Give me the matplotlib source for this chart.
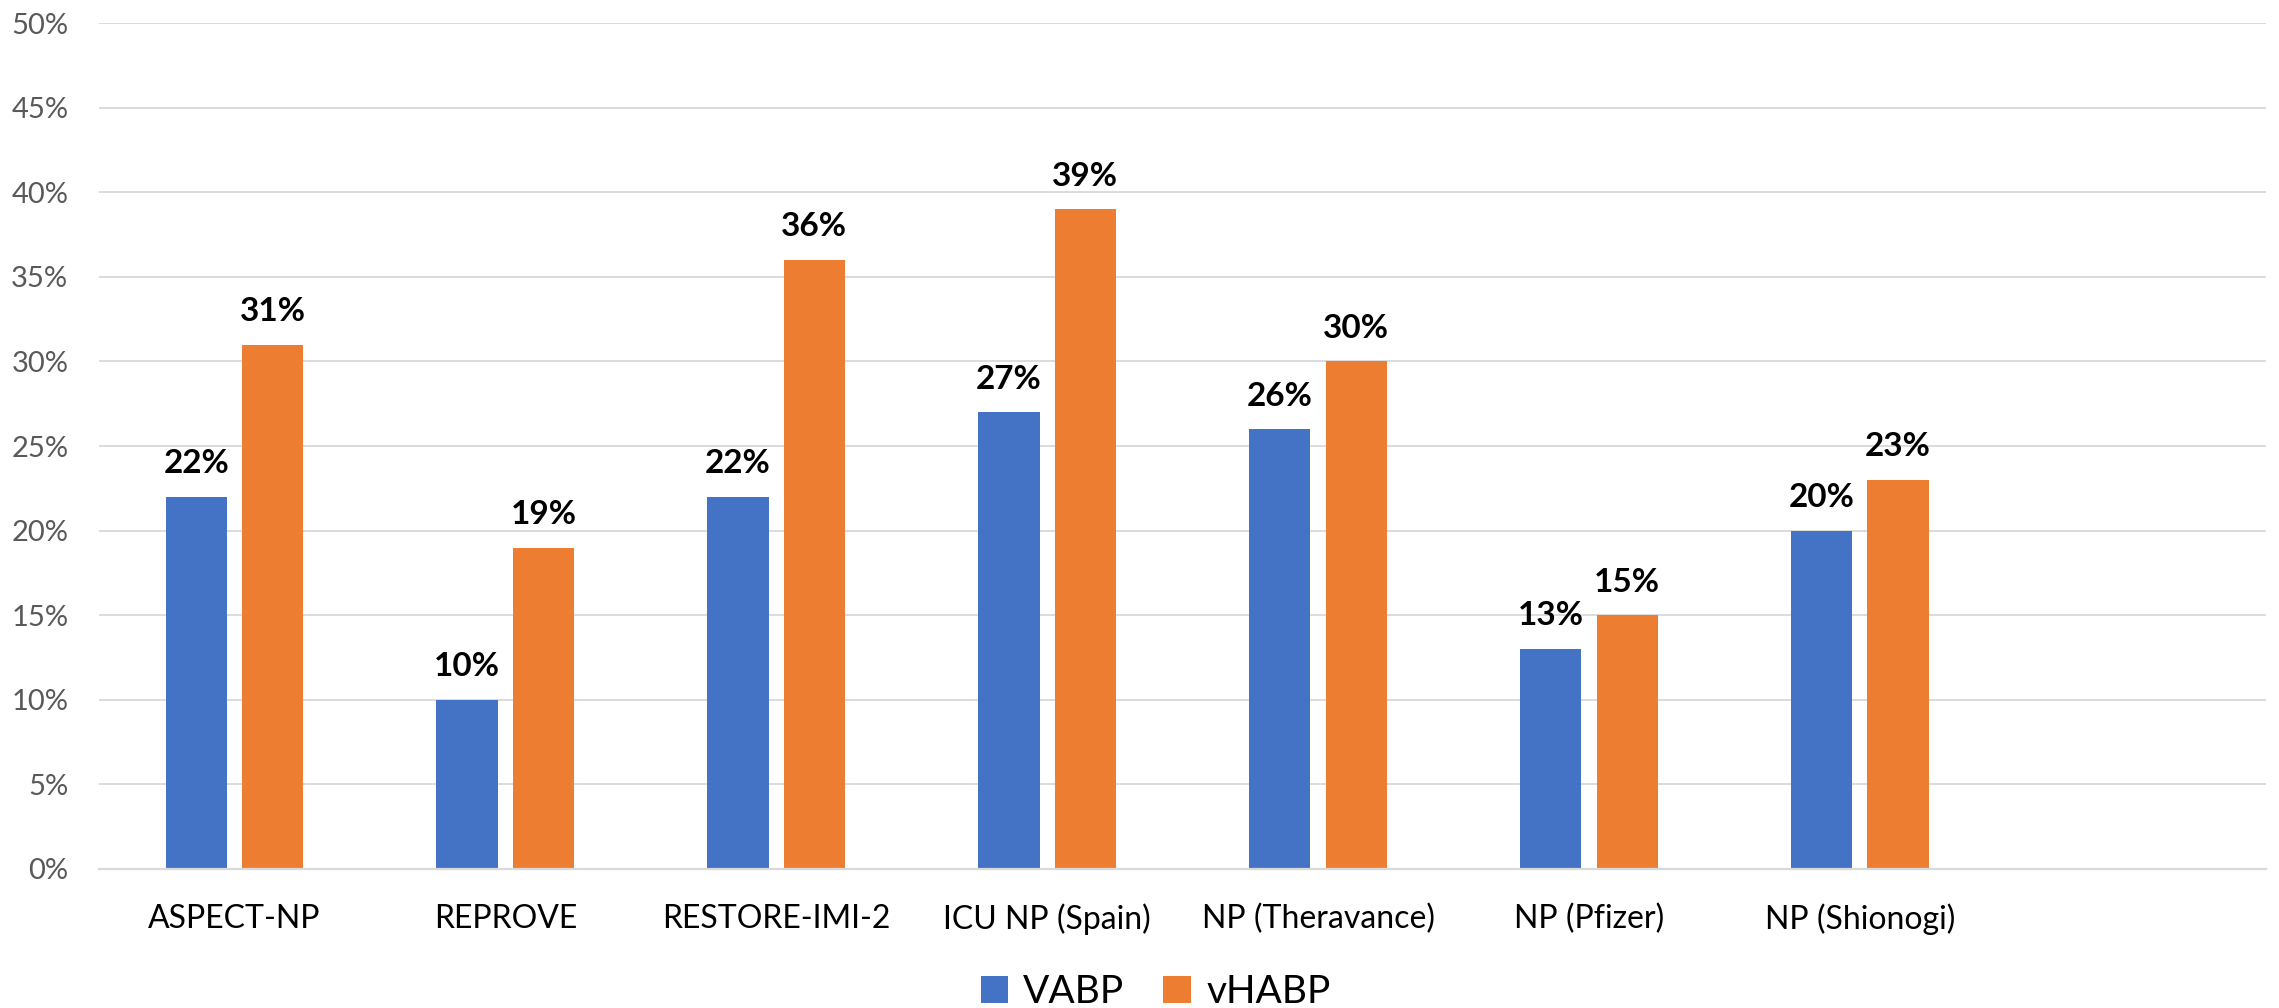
import numpy as np
import matplotlib.pyplot as plt
from matplotlib.ticker import MultipleLocator, PercentFormatter

plt.rcParams['font.family'] = ['Lato', 'DejaVu Sans']

studies = ['ASPECT-NP', 'REPROVE', 'RESTORE-IMI-2', 'ICU NP (Spain)',
           'NP (Theravance)', 'NP (Pfizer)', 'NP (Shionogi)']
vabp = [22, 10, 22, 27, 26, 13, 20]
vhabp = [31, 19, 36, 39, 30, 15, 23]
series_names = ['VABP', 'vHABP']

blue = '#4472C4'
orange = '#ED7D31'
grid_grey = '#D9D9D9'

fig = plt.figure(figsize=(22.79, 10.08), dpi=100)
ax = fig.add_axes([0.0434, 0.138, 0.951, 0.839])

x = np.arange(len(studies))
w = 0.226
off = 0.141
b1 = ax.bar(x - off, vabp, w, color=blue, label=series_names[0], zorder=2)
b2 = ax.bar(x + off, vhabp, w, color=orange, label=series_names[1], zorder=2)

# value labels above each bar
for bars, vals in ((b1, vabp), (b2, vhabp)):
    for rect, v in zip(bars, vals):
        ax.annotate(f'{v}%', (rect.get_x() + rect.get_width() / 2, v),
                    xytext=(0, 17), textcoords='offset points',
                    ha='center', va='baseline', fontsize=24,
                    fontweight='bold', color='black')

# one empty slot is left at the right end of the category axis
ax.set_xlim(-0.5, len(studies) + 0.5)
ax.set_ylim(0, 50)
ax.yaxis.set_major_locator(MultipleLocator(5))
ax.yaxis.set_major_formatter(PercentFormatter(decimals=0))
ax.set_xticks(x)
ax.set_xticklabels(studies)

ax.grid(axis='y', color=grid_grey, linewidth=1.3, zorder=0)
ax.set_axisbelow(True)
for side in ('top', 'right', 'left'):
    ax.spines[side].set_visible(False)
ax.spines['bottom'].set_color(grid_grey)
ax.spines['bottom'].set_linewidth(1.6)

ax.tick_params(axis='y', length=0, pad=22, labelsize=21, labelcolor='#595959')
ax.tick_params(axis='x', length=0, pad=25, labelsize=23, labelcolor='black')

fig.legend(handles=[b1, b2], loc='lower center', bbox_to_anchor=(0.507, -0.037),
           ncol=2, frameon=False, fontsize=28, handlelength=0.7,
           handleheight=0.7, handletextpad=0.4, columnspacing=1.0)

fig.savefig('out.png', dpi=100)
